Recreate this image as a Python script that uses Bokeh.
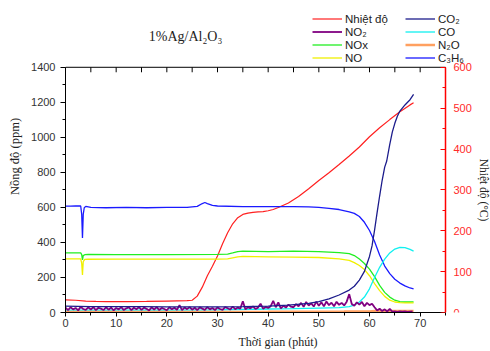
from bokeh.plotting import figure
from bokeh.models import (Range1d, LinearAxis, SingleIntervalTicker, Legend, LegendItem, Label)
from bokeh.embed import file_html
from bokeh.resources import INLINE

# ---------------- data ----------------
t_temp = [0, 2, 4, 6, 8, 12, 16, 20, 24, 25, 26, 27, 28, 29, 30, 31, 32, 33, 34, 35, 36, 37, 38, 39, 40,
          41, 42, 44, 46, 48, 50, 52, 54, 56, 58, 60, 62, 64, 66, 68, 68.7]
temp = [31, 30, 28, 27, 26.5, 26.5, 27, 28, 29, 30, 40, 62, 90, 113, 138, 168, 195, 217, 232, 240, 243, 245,
        246, 247, 249, 252, 257, 268, 284, 303, 323, 342, 362, 383, 405, 430, 452, 472, 491, 508, 513]

t_co2 = [0, 5, 10, 15, 20, 25, 30, 35, 40, 44, 48, 50, 52, 54, 56, 57, 58, 59, 60, 60.5, 61, 61.5, 62, 62.5,
         63, 63.4, 64, 64.5, 65, 65.5, 66, 67, 68, 68.7]
co2 = [36, 34, 33, 33, 32, 32, 32, 33, 36, 42, 52, 62, 78, 100, 128, 150, 185, 235, 320, 380, 470, 570, 665,
       755, 830, 865, 960, 1030, 1080, 1120, 1150, 1185, 1215, 1245]

t_c3h6 = [0, 1, 2, 3, 3.2, 3.35, 3.5, 3.7, 4, 4.5, 5, 8, 12, 16, 20, 24, 26, 27, 27.5, 28, 29, 30, 35, 40, 45,
          48, 50, 52, 54, 56, 57, 58, 59, 60, 61, 62, 63, 64, 65, 66, 67, 68, 68.7]
c3h6 = [607, 607, 608, 608, 560, 425, 560, 598, 606, 603, 600, 598, 600, 598, 600, 600, 606, 622, 628, 622,
        612, 608, 605, 605, 605, 603, 600, 594, 588, 575, 566, 548, 515, 468, 405, 328, 265, 222, 190, 168,
        152, 140, 135]

t_nox = [0, 3, 3.2, 3.35, 3.5, 3.8, 4.5, 10, 20, 30, 32, 33, 34, 35, 40, 45, 50, 54, 56, 57, 58, 59, 60, 61,
         62, 63, 64, 65, 66, 67, 68, 68.7]
nox = [340, 340, 330, 300, 325, 330, 332, 330, 330, 332, 333, 340, 348, 350, 348, 350, 348, 342, 336, 325, 305,
       280, 248, 205, 155, 115, 88, 70, 62, 60, 60, 61]

t_no = [0, 3, 3.2, 3.35, 3.5, 3.8, 4.5, 10, 20, 30, 32, 33, 34, 35, 40, 45, 50, 54, 56, 57, 58, 59, 60, 61,
        62, 63, 64, 65, 66, 67, 68, 68.7]
no = [306, 306, 280, 215, 290, 303, 304, 305, 305, 305, 306, 312, 318, 320, 318, 316, 314, 306, 298, 285, 268,
      245, 210, 165, 125, 92, 70, 60, 56, 55, 55, 55]

t_co = [0, 10, 20, 30, 40, 45, 50, 54, 56, 57, 58, 59, 60, 61, 62, 63, 64, 65, 66, 67, 68, 68.7]
co = [14, 14, 14, 15, 20, 22, 25, 28, 34, 42, 60, 88, 135, 200, 258, 305, 340, 362, 372, 370, 360, 350]

t_n2o = [0, 20, 40, 55, 60, 61, 62, 65, 68.7]
n2o = [3, 3, 4, 5, 6, 8, 9, 9, 9]

t_no2 = [i * 0.5 for i in range(138)]
no2 = [28, 14, 30, 18, 26, 12, 32, 20, 15, 29,
       17, 31, 13, 27, 22, 14, 30, 16, 28, 12,
       26, 18, 31, 14, 24, 29, 13, 27, 19, 30,
       15, 28, 21, 12, 29, 17, 31, 14, 26, 20,
       13, 30, 18, 27, 15, 42, 14, 28, 19, 31,
       16, 27, 13, 29, 22, 15, 30, 18, 26, 14,
       29, 20, 15, 31, 24, 17, 33, 19, 28, 22,
       64, 18, 30, 24, 35, 20, 28, 50, 22, 32,
       26, 36, 66, 30, 58, 24, 38, 28, 45, 33,
       30, 48, 36, 55, 32, 60, 40, 52, 34, 62,
       38, 58, 35, 63, 42, 56, 36, 61, 44, 55,
       40, 62, 105, 48, 38, 58, 45, 60, 36, 55,
       42, 50, 30, 12, 22, 8, 18, 6, 20, 5,
       6, 4, 7, 5, 6, 4, 5, 6]

x_ticks_top = [0, 5, 10, 15, 20, 25, 30, 35, 40, 45, 50, 55, 60, 65, 70, 75]

title_text = "1%Ag/Al₂O₃"
title_pos = (23.7, 1576)   # data coords (minutes, ppm) of the title centre

PPM_MAX, T_MAX, X_MAX = 1400, 600, 75
FRAME_H_PX, AXIS_H_PX = 313, 246        # frame height incl. header room, height of the axis box
FRAME_W_PX, AXIS_W_PX = 425, 380        # frame width incl. right room, width of the axis box
Y_TOP = PPM_MAX * FRAME_H_PX / AXIS_H_PX
T_TOP = T_MAX * FRAME_H_PX / AXIS_H_PX
X_RIGHT = X_MAX * FRAME_W_PX / AXIS_W_PX
TICK_LEN = PPM_MAX * 5 / AXIS_H_PX      # 5 px expressed in ppm

# ---------------- figure ----------------
p = figure(width=490, height=351, output_backend="svg", toolbar_location=None,
           x_range=Range1d(0, X_RIGHT), y_range=Range1d(0, Y_TOP),
           min_border_left=65, min_border_right=0, min_border_top=0, min_border_bottom=38)
p.extra_y_ranges = {"temp": Range1d(0, T_TOP)}
p.grid.visible = False
p.outline_line_color = None
p.background_fill_color = "white"

SANS = "Liberation Sans"
SERIF = "Liberation Serif"

# bottom axis
xa = p.xaxis[0]
xa.bounds = (0, X_MAX)
xa.ticker = SingleIntervalTicker(interval=10, num_minor_ticks=2)
xa.axis_label = "Thời gian (phút)"
xa.axis_label_text_font = SERIF
xa.axis_label_text_font_style = "normal"
xa.axis_label_text_font_size = "12px"
xa.axis_label_text_color = "#222222"
xa.axis_label_text_align = "right"
xa.axis_label_standoff = 5
xa.major_label_text_font = SANS
xa.major_label_text_font_size = "11px"
xa.major_label_text_color = "#333333"
xa.major_label_standoff = 2
xa.major_tick_out = 4
xa.major_tick_in = 0
xa.minor_tick_out = 3
xa.minor_tick_in = 0
xa.axis_line_color = "black"

# left axis
ya = p.yaxis[0]
ya.bounds = (0, PPM_MAX)
ya.ticker = SingleIntervalTicker(interval=200, num_minor_ticks=2)
ya.axis_label = "Nồng độ (ppm)"
ya.axis_label_text_font = SERIF
ya.axis_label_text_font_style = "normal"
ya.axis_label_text_font_size = "12.5px"
ya.axis_label_text_color = "#222222"
ya.axis_label_standoff = 6
ya.major_label_text_font = SANS
ya.major_label_text_font_size = "11px"
ya.major_label_text_color = "#333333"
ya.major_label_standoff = 5
ya.major_tick_out = 5
ya.major_tick_in = 0
ya.minor_tick_out = 3
ya.minor_tick_in = 0

# right axis (temperature), pinned at the right edge of the axis box
ra = LinearAxis(y_range_name="temp", bounds=(0, T_MAX), fixed_location=X_MAX,
                ticker=SingleIntervalTicker(interval=100, num_minor_ticks=2))
ra.axis_label = "Nhiệt độ (°C)"
ra.axis_label_text_font = SERIF
ra.axis_label_text_font_style = "normal"
ra.axis_label_text_font_size = "11.5px"
ra.axis_label_text_color = "#222222"
ra.axis_label_standoff = 3
ra.major_label_text_font = SANS
ra.major_label_text_font_size = "11px"
ra.major_label_text_color = "#ff2a2a"
ra.axis_line_color = "#ff0000"
ra.axis_line_width = 1.5
ra.major_tick_line_color = "#ff0000"
ra.minor_tick_line_color = "#ff0000"
ra.major_tick_in = 5
ra.major_tick_out = 0
ra.minor_tick_in = 3
ra.minor_tick_out = 0
ra.major_label_standoff = 8
p.add_layout(ra, "right")

# top border of the axis box with inward ticks
p.segment(x0=[0], x1=[X_MAX], y0=[PPM_MAX], y1=[PPM_MAX], line_color="black", line_width=1)
p.segment(x0=x_ticks_top, x1=x_ticks_top, y0=[PPM_MAX] * len(x_ticks_top),
          y1=[PPM_MAX - TICK_LEN] * len(x_ticks_top), line_color="black", line_width=1)

# ---------------- lines ----------------
r_temp = p.line(t_temp, temp, y_range_name="temp", color="#ff2020", line_width=1.2)
r_c3h6 = p.line(t_c3h6, c3h6, color="#1a1aff", line_width=1.3)
r_nox = p.line(t_nox, nox, color="#22ee22", line_width=1.3)
r_no = p.line(t_no, no, color="#f0f000", line_width=1.3)
r_co = p.line(t_co, co, color="#10f0f0", line_width=1.3)
r_n2o = p.line(t_n2o, n2o, color="#ffa060", line_width=2.5)
r_no2 = p.line(t_no2, no2, color="#800080", line_width=1.8)
r_co2 = p.line(t_co2, co2, color="#1c1c8c", line_width=1.3)

legend = Legend(items=[
    LegendItem(label="Nhiệt độ", renderers=[r_temp]),
    LegendItem(label="NO₂", renderers=[r_no2]),
    LegendItem(label="NOx", renderers=[r_nox]),
    LegendItem(label="NO", renderers=[r_no]),
    LegendItem(label="CO₂", renderers=[r_co2]),
    LegendItem(label="CO", renderers=[r_co]),
    LegendItem(label="N₂O", renderers=[r_n2o]),
    LegendItem(label="C₃H₆", renderers=[r_c3h6]),
], location=(247, 248), ncols=2, orientation="vertical",
    padding=0, margin=0, spacing=0, border_line_color=None, background_fill_alpha=0,
    glyph_width=30, glyph_height=13, label_height=13, label_width=60, label_standoff=3,
    label_text_font=SANS, label_text_font_size="11.5px", label_text_color="#222222")
p.add_layout(legend, "center")

title = Label(x=title_pos[0], y=title_pos[1], text=title_text,
              text_font=SERIF, text_font_size="14px", text_color="#222222",
              text_align="center", text_baseline="middle")
p.add_layout(title)

open("out.html", "w").write(file_html(p, INLINE))
